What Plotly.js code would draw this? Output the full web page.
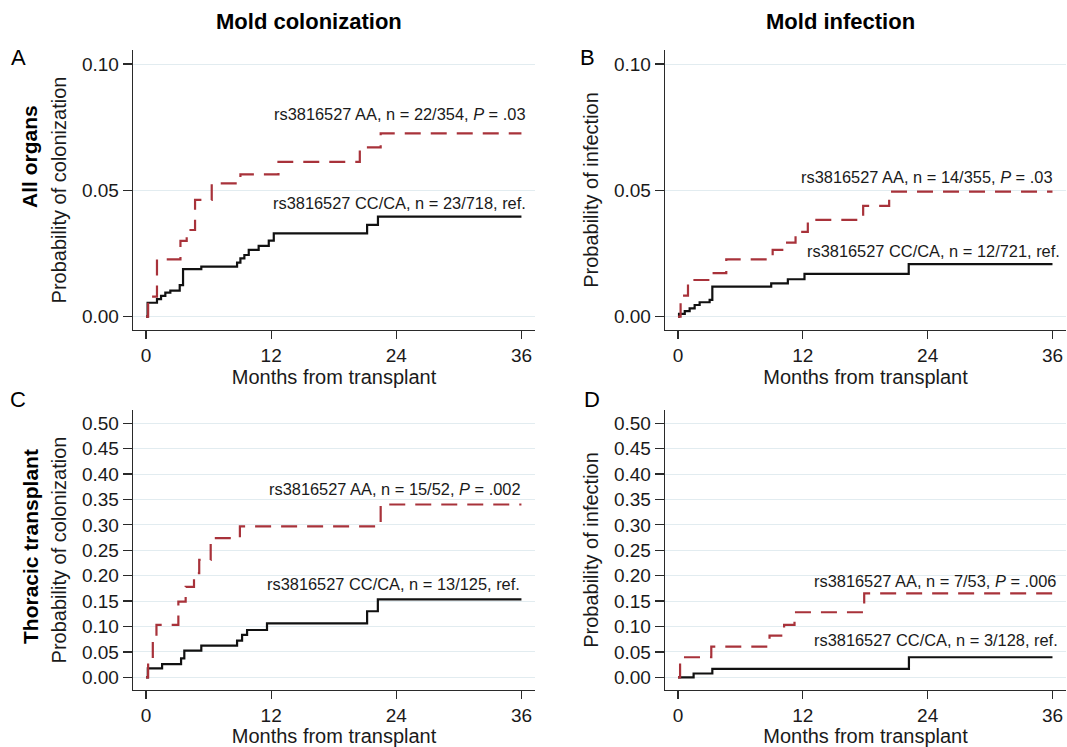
<!DOCTYPE html>
<html><head><meta charset="utf-8">
<script src="https://cdn.plot.ly/plotly-3.0.1.min.js"></script>
<style>html,body{margin:0;padding:0;background:#fff}#chart{width:1067px;height:747px}</style>
</head><body><div id="chart"></div>
<script>
// ---------- data ----------
// Panel A: all organs, mold colonization
const monthsA_CC = [0, 0.15, 1.05, 1.44, 1.85, 2.33, 3.23, 3.55, 5.3, 8.73, 9.05, 9.43, 9.85, 10.8, 11.77, 12.25, 21.2, 22.24, 36];
const probA_CC   = [0, 0.0055, 0.0069, 0.0082, 0.0095, 0.0103, 0.0125, 0.0188, 0.0198, 0.0214, 0.0231, 0.0244, 0.0264, 0.028, 0.0301, 0.033, 0.0363, 0.0396, 0.0396];
const monthsA_AA = [0, 0.2, 1.05, 3.3, 3.9, 4.7, 6.3, 9.05, 12.7, 20.5, 22.5, 36];
const probA_AA   = [0, 0.0079, 0.0227, 0.030, 0.0343, 0.0462, 0.0528, 0.0563, 0.0613, 0.067, 0.0726, 0.0726];
// Panel B: all organs, mold infection
const monthsB_CC = [0, 0.1, 0.65, 1.12, 1.6, 2.08, 3.04, 3.3, 8.96, 10.56, 12.16, 22.18, 36];
const probB_CC   = [0, 0.0011, 0.0022, 0.0033, 0.0046, 0.0057, 0.0066, 0.0119, 0.0132, 0.0148, 0.0169, 0.0208, 0.0208];
const monthsB_AA = [0, 0.25, 0.96, 3.2, 4.64, 9.1, 10.24, 11.3, 12.48, 17.8, 20.3, 36];
const probB_AA   = [0, 0.0083, 0.0145, 0.0172, 0.0227, 0.0264, 0.0293, 0.0336, 0.0383, 0.0439, 0.0495, 0.0495];
// Panel C: thoracic transplant, mold colonization
const monthsC_CC = [0, 0.17, 1.54, 3.36, 3.67, 5.3, 8.73, 9.21, 9.69, 11.6, 21.2, 22.23, 36];
const probC_CC   = [0, 0.0177, 0.026, 0.0374, 0.0524, 0.0622, 0.072, 0.0833, 0.0931, 0.106, 0.13, 0.1535, 0.1535];
const monthsC_AA = [0, 0.2, 0.65, 1.0, 3.1, 3.8, 4.6, 5.1, 6.2, 9.0, 22.5, 36];
const probC_AA   = [0, 0.04, 0.07, 0.103, 0.149, 0.178, 0.205, 0.231, 0.274, 0.297, 0.340, 0.340];
// Panel D: thoracic transplant, mold infection
const monthsD_CC = [0, 1.5, 3.3, 22.2, 36];
const probD_CC   = [0, 0.0075, 0.0165, 0.0394, 0.0394];
const monthsD_AA = [0, 0.2, 3.2, 8.8, 10.2, 11.2, 17.9, 36];
const probD_AA   = [0, 0.0394, 0.0604, 0.082, 0.103, 0.128, 0.165, 0.165];

// tick labels / text
const xTicks = [0, 12, 24, 36];
const yTicksTop = [0, 0.05, 0.10];
const yTicksBottom = [0, 0.05, 0.10, 0.15, 0.20, 0.25, 0.30, 0.35, 0.40, 0.45, 0.50];
const columnTitles = ['Mold colonization', 'Mold infection'];
const rowTitles = ['All organs', 'Thoracic transplant'];
const panelLetters = ['A', 'B', 'C', 'D'];
const yTitles = ['Probability of colonization', 'Probability of infection'];
const xTitle = 'Months from transplant';
const labelsAA = ['rs3816527 AA, n = 22/354, <i>P</i> = .03', 'rs3816527 AA, n = 14/355, <i>P</i> = .03',
                  'rs3816527 AA, n = 15/52, <i>P</i> = .002', 'rs3816527 AA, n = 7/53, <i>P</i> = .006'];
const labelsCC = ['rs3816527 CC/CA, n = 23/718, ref.', 'rs3816527 CC/CA, n = 12/721, ref.',
                  'rs3816527 CC/CA, n = 13/125, ref.', 'rs3816527 CC/CA, n = 3/128, ref.'];

// ---------- layout helpers ----------
const W = 1067, H = 747;
const px = x => x / W, py = y => 1 - y / H;
const FONT = '"Liberation Sans", Arial, Helvetica, sans-serif';
const RED = '#a8323a', BLACK = '#111111', GRID = '#e2ecf0', AXIS = '#2a2a2a', TXT = '#1a1a1a';

const colX = [[133, 535], [665, 1066]];
const rowY = [[50, 330], [410, 690]];
const yRanges = [[-0.0053, 0.1056], [-0.025, 0.526]];

function xAxis(c, r, anchor) {
  return {
    domain: [px(colX[c][0]), px(colX[c][1])], anchor: anchor,
    range: [-1.25, 37.3], tickvals: xTicks, ticks: 'outside', ticklen: 8, tickwidth: 1.3,
    tickcolor: AXIS, showline: true, linecolor: AXIS, linewidth: 1.3,
    showgrid: false, zeroline: false, tickfont: {size: 19, color: TXT, family: FONT},
    title: {text: xTitle, font: {size: 20, color: TXT, family: FONT}, standoff: 2},
    fixedrange: true
  };
}
function yAxis(c, r, anchor) {
  return {
    domain: [py(rowY[r][1]), py(rowY[r][0])], anchor: anchor,
    range: yRanges[r], tickvals: r === 0 ? yTicksTop : yTicksBottom, tickformat: '.2f',
    ticks: 'outside', ticklen: 9, tickwidth: 1.3, tickcolor: AXIS,
    showline: true, linecolor: AXIS, linewidth: 1.3,
    showgrid: true, gridcolor: GRID, gridwidth: 1, zeroline: false,
    tickfont: {size: 19, color: TXT, family: FONT},
    title: {text: yTitles[c], font: {size: 20, color: TXT, family: FONT}, standoff: 10},
    fixedrange: true
  };
}

const panels = [
  {c: 0, r: 0, xa: 'x',  ya: 'y',  cc: [monthsA_CC, probA_CC], aa: [monthsA_AA, probA_AA]},
  {c: 1, r: 0, xa: 'x2', ya: 'y2', cc: [monthsB_CC, probB_CC], aa: [monthsB_AA, probB_AA]},
  {c: 0, r: 1, xa: 'x3', ya: 'y3', cc: [monthsC_CC, probC_CC], aa: [monthsC_AA, probC_AA]},
  {c: 1, r: 1, xa: 'x4', ya: 'y4', cc: [monthsD_CC, probD_CC], aa: [monthsD_AA, probD_AA]}
];

const traces = [];
const layout = {
  width: W, height: H, margin: {l: 0, r: 0, t: 0, b: 0},
  paper_bgcolor: '#ffffff', plot_bgcolor: '#ffffff', showlegend: false,
  font: {family: FONT, color: TXT}, annotations: []
};

panels.forEach((p, i) => {
  const xKey = 'xaxis' + (i === 0 ? '' : i + 1), yKey = 'yaxis' + (i === 0 ? '' : i + 1);
  layout[xKey] = xAxis(p.c, p.r, p.ya);
  layout[yKey] = yAxis(p.c, p.r, p.xa);
  traces.push({x: p.cc[0], y: p.cc[1], xaxis: p.xa, yaxis: p.ya, mode: 'lines',
    line: {shape: 'hv', color: BLACK, width: 2.2}, name: labelsCC[i], hoverinfo: 'skip'});
  traces.push({x: p.aa[0], y: p.aa[1], xaxis: p.xa, yaxis: p.ya, mode: 'lines',
    line: {shape: 'hv', color: RED, width: 2.2, dash: '16px,10px'}, name: labelsAA[i], hoverinfo: 'skip'});
});

// series label positions (right edge x, centre y) in pixels
const labelPosAA = [[528, 114], [1055, 177], [523, 489], [1058, 581]];
const labelPosCC = [[528, 203], [1062, 251], [522, 584], [1060, 640]];
const ann = layout.annotations;
for (let i = 0; i < 4; i++) {
  ann.push({xref: 'paper', yref: 'paper', x: px(labelPosAA[i][0]), y: py(labelPosAA[i][1]),
    xanchor: 'right', yanchor: 'middle', showarrow: false, text: labelsAA[i],
    font: {size: 16.4, color: TXT, family: FONT}});
  ann.push({xref: 'paper', yref: 'paper', x: px(labelPosCC[i][0]), y: py(labelPosCC[i][1]),
    xanchor: 'right', yanchor: 'middle', showarrow: false, text: labelsCC[i],
    font: {size: 16.4, color: TXT, family: FONT}});
}
// column titles
[[309, 21], [840, 21]].forEach((pos, i) => ann.push({xref: 'paper', yref: 'paper',
  x: px(pos[0]), y: py(pos[1]), xanchor: 'center', yanchor: 'middle', showarrow: false,
  text: '<b>' + columnTitles[i] + '</b>', font: {size: 22, color: '#000', family: FONT}}));
// row titles
[[30, 157], [30, 547]].forEach((pos, i) => ann.push({xref: 'paper', yref: 'paper',
  x: px(pos[0]), y: py(pos[1]), xanchor: 'center', yanchor: 'middle', showarrow: false,
  textangle: -90, text: '<b>' + rowTitles[i] + '</b>', font: {size: 21, color: '#000', family: FONT}}));
// panel letters
[[18, 57], [587, 57], [18, 399], [592, 399]].forEach((pos, i) => ann.push({xref: 'paper', yref: 'paper',
  x: px(pos[0]), y: py(pos[1]), xanchor: 'center', yanchor: 'middle', showarrow: false,
  text: panelLetters[i], font: {size: 22, color: '#000', family: FONT}}));

Plotly.newPlot('chart', traces, layout, {displayModeBar: false, staticPlot: true});
</script>
</body></html>
